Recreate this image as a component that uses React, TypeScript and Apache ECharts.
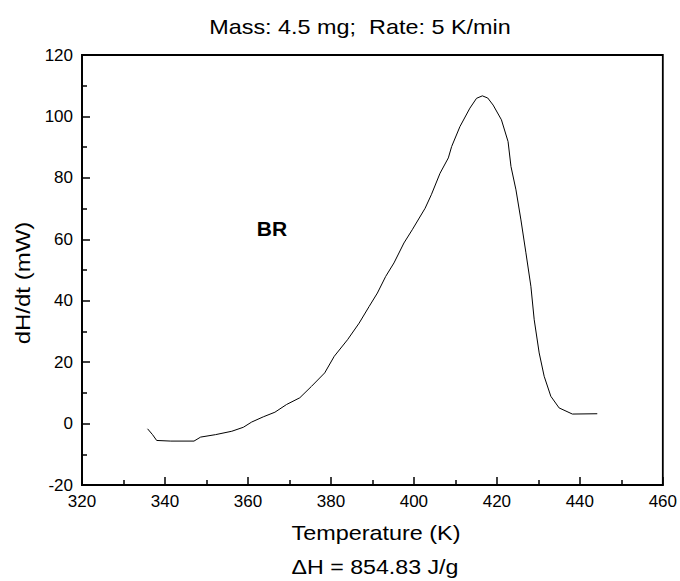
import React, { useEffect, useRef } from "react";
import * as echarts from "echarts";

const temperature: number[] = [
  335.8, 337, 338, 341.4, 347, 348.6, 352.2, 356.1, 358.9, 360.9, 363.7, 366.5, 369.3,
  372.5, 375.3, 378.5, 380.8, 384, 386.8, 389.2, 391.2, 393.2, 395.2, 397.6, 399.6,
  402.7, 404.2, 406.3, 408.3, 409.1, 411.1, 413.5, 415.1, 416.5, 417.8, 419.1, 421.1,
  422.7, 423.4, 424.6, 425.8, 427, 428.2, 429, 430.2, 431.4, 433, 435, 438.2, 444.2,
];
const heatFlow: number[] = [
  -1.7, -3.6, -5.5, -5.7, -5.7, -4.4, -3.6, -2.5, -1.2, 0.5, 2.2, 3.7, 6.2,
  8.4, 12.1, 16.5, 21.9, 27.3, 32.7, 38.1, 42.5, 47.9, 52.3, 58.8, 63.1,
  70.1, 74.5, 81.5, 86.5, 90.2, 96.7, 102.7, 105.9, 106.7, 106, 103.7, 98.9,
  91.8, 83.7, 76.1, 66.3, 55.6, 44.7, 33.8, 23, 15.4, 8.9, 5.1, 3.1, 3.2,
];

const titleText = "Mass: 4.5 mg;  Rate: 5 K/min";
const xAxisTitle = "Temperature (K)";
const yAxisTitle = "dH/dt (mW)";
const footnote = "\u0394H = 854.83 J/g";
const sampleLabel = "BR";
const sampleLabelPos: [number, number] = [365.8, 63.5];

const FONT = "'Liberation Sans', Arial, sans-serif";

export default function App() {
  const ref = useRef<HTMLDivElement>(null);
  useEffect(() => {
    if (!ref.current) return;
    const chart = echarts.init(ref.current, undefined, { renderer: "svg" });
    const data = temperature.map((t, i) => [t, heatFlow[i]]);
    const axisCommon = {
      type: "value",
      axisLine: { show: true, onZero: false, lineStyle: { color: "#000", width: 1.8 } },
      axisTick: { show: true, inside: true, length: 8, lineStyle: { color: "#000", width: 1.5 } },
      minorTick: { show: true, splitNumber: 2, length: 5, lineStyle: { color: "#000", width: 1.5 } },
      splitLine: { show: false },
    };
    chart.setOption({
      animation: false,
      backgroundColor: "#ffffff",
      textStyle: { fontFamily: FONT },
      grid: {
        left: 82,
        right: 12,
        top: 55,
        bottom: 96,
        show: true,
        borderColor: "#000",
        borderWidth: 1.8,
        backgroundColor: "transparent",
      },
      xAxis: {
        ...axisCommon,
        min: 320,
        max: 460,
        interval: 20,
        axisLabel: { fontSize: 17, color: "#000", margin: 8, fontFamily: FONT },
      },
      yAxis: {
        ...axisCommon,
        min: -20,
        max: 120,
        interval: 20,
        axisLabel: { fontSize: 17, color: "#000", margin: 9, fontFamily: FONT },
      },
      series: [
        {
          type: "line",
          data,
          showSymbol: false,
          symbol: "none",
          smooth: false,
          lineStyle: { color: "#000", width: 1 },
          markPoint: {
            symbol: "circle",
            symbolSize: 0,
            label: {
              show: true,
              formatter: sampleLabel,
              fontSize: 21,
              fontWeight: "bold",
              color: "#000",
              fontFamily: FONT,
              position: "inside",
            },
            data: [{ coord: sampleLabelPos }],
          },
        },
      ],
      graphic: [
        {
          type: "text",
          x: 360,
          y: 27,
          scaleX: 1.17,
          style: {
            text: titleText,
            fontSize: 20,
            fill: "#000",
            fontFamily: FONT,
            textAlign: "center",
            textVerticalAlign: "middle",
          },
        },
        {
          type: "text",
          x: 376,
          y: 533,
          scaleX: 1.17,
          style: {
            text: xAxisTitle,
            fontSize: 20,
            fill: "#000",
            fontFamily: FONT,
            textAlign: "center",
            textVerticalAlign: "middle",
          },
        },
        {
          type: "text",
          x: 23,
          y: 283,
          rotation: Math.PI / 2,
          scaleX: 1.2,
          style: {
            text: yAxisTitle,
            fontSize: 20,
            fill: "#000",
            fontFamily: FONT,
            textAlign: "center",
            textVerticalAlign: "middle",
          },
        },
        {
          type: "text",
          x: 375,
          y: 567,
          scaleX: 1.16,
          style: {
            text: footnote,
            fontSize: 20,
            fill: "#000",
            fontFamily: FONT,
            textAlign: "center",
            textVerticalAlign: "middle",
          },
        },
      ],
    });
    return () => chart.dispose();
  }, []);
  return <div ref={ref} style={{ width: 680, height: 581, position: "absolute", left: 0, top: 0 }} />;
}
